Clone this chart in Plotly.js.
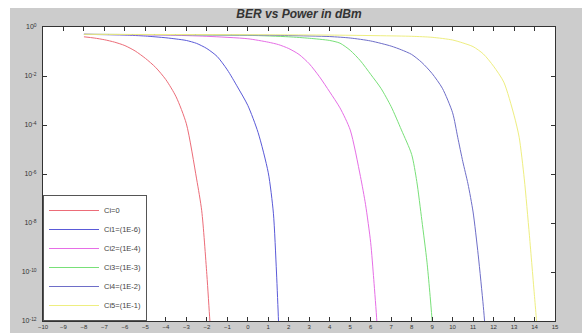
<!DOCTYPE html>
<html>
<head>
<meta charset="utf-8">
<script src="https://cdn.plot.ly/plotly-3.0.1.min.js"></script>
<style>
  html, body { margin: 0; padding: 0; background: #ffffff; width: 583px; height: 333px; overflow: hidden; }
  #chart { position: absolute; left: 10px; top: 8px; width: 572px; height: 325px; }
</style>
</head>
<body>
<div id="chart"></div>
<script>
// Power in dBm and BER
const seriesNames = ["Ci=0", "Ci1=(1E-6)", "Ci2=(1E-4)", "Ci3=(1E-3)", "Ci4=(1E-2)", "Ci5=(1E-1)"];

const powerCi0 = [-8, -7.5, -7, -6.5, -6, -5.5, -5, -4.5, -4, -3.5, -3, -2.5, -2.25, -2, -1.85, -1.75];
const berCi0   = [0.398, 0.355, 0.302, 0.240, 0.174, 0.105, 0.0525, 0.0224, 7.08e-3, 1.41e-3, 1.12e-4, 6.31e-7, 3.16e-8, 7.94e-11, 1e-12, 1e-13];

const powerCi1 = [-8, -6, -5, -4, -3.5, -3, -2.5, -2, -1.5, -1, -0.5, 0, 0.5, 1, 1.25, 1.4, 1.5, 1.55];
const berCi1   = [0.501, 0.468, 0.427, 0.363, 0.324, 0.282, 0.214, 0.132, 0.0631, 0.0178, 3.55e-3, 6.31e-4, 5.01e-5, 1.12e-6, 2.51e-8, 1e-10, 1e-12, 1e-13];

const powerCi2 = [-8, -4, -2, 0, 1, 1.5, 2, 2.5, 3, 3.5, 4, 4.5, 5, 5.5, 5.75, 6, 6.15, 6.3, 6.35];
const berCi2   = [0.501, 0.468, 0.417, 0.331, 0.240, 0.191, 0.132, 0.0759, 0.0316, 9.33e-3, 2.24e-3, 5.01e-4, 6.31e-5, 7.94e-7, 5.62e-8, 1.58e-9, 5.01e-11, 1e-12, 1e-13];

const powerCi3 = [-8, 0, 2, 3, 4, 4.5, 5, 5.5, 6, 6.5, 7, 7.5, 8, 8.25, 8.5, 8.75, 9, 9.05];
const berCi3   = [0.501, 0.457, 0.398, 0.347, 0.282, 0.219, 0.112, 0.0417, 0.0117, 3.16e-3, 5.62e-4, 6.31e-5, 6.31e-6, 5.01e-7, 1.26e-8, 2.51e-10, 1e-12, 1e-13];

const powerCi4 = [-8, 0, 2, 4, 5, 6, 7, 7.5, 8, 8.5, 9, 9.5, 10, 10.25, 10.5, 10.75, 11, 11.25, 11.5, 11.6];
const berCi4   = [0.501, 0.468, 0.447, 0.407, 0.355, 0.269, 0.166, 0.117, 0.0759, 0.0355, 0.0126, 3.16e-3, 3.16e-4, 3.16e-5, 3.16e-6, 3.98e-7, 2.82e-8, 5.01e-10, 3.98e-12, 3.98e-13];

const powerCi5 = [-8, 4, 8, 9, 10, 10.5, 11, 11.5, 12, 12.5, 13, 13.25, 13.5, 13.75, 14, 14.1, 14.2];
const berCi5   = [0.501, 0.468, 0.417, 0.380, 0.295, 0.224, 0.158, 0.0794, 0.0251, 5.62e-3, 2.51e-4, 3.16e-5, 6.31e-7, 3.16e-9, 1e-11, 1e-12, 1e-13];

const xTickVals = [-10,-9,-8,-7,-6,-5,-4,-3,-2,-1,0,1,2,3,4,5,6,7,8,9,10,11,12,13,14,15];
const yTickVals = [1, 1e-2, 1e-4, 1e-6, 1e-8, 1e-10, 1e-12];
const yTickText = ["10<sup>0</sup>", "10<sup>-2</sup>", "10<sup>-4</sup>", "10<sup>-6</sup>", "10<sup>-8</sup>", "10<sup>-10</sup>", "10<sup>-12</sup>"];

const lineColors = ["#ec6c78", "#5a5ad8", "#e66ee6", "#78e078", "#6e6ec8", "#eeee80"];

const xs = [powerCi0, powerCi1, powerCi2, powerCi3, powerCi4, powerCi5];
const ys = [berCi0, berCi1, berCi2, berCi3, berCi4, berCi5];

const traces = seriesNames.map((n, i) => ({
  type: 'scatter', mode: 'lines', name: n,
  x: xs[i], y: ys[i],
  line: { color: lineColors[i], width: 1, shape: 'spline', smoothing: 0.7 }
}));

const axisFont = { family: 'Liberation Sans, Arial, sans-serif', size: 7, color: '#333' };

const layout = {
  width: 572, height: 325,
  paper_bgcolor: '#cccccc',
  plot_bgcolor: '#ffffff',
  margin: { l: 33, r: 27, t: 19, b: 12, pad: 0 },
  title: {
    text: '<b><i>BER vs Power in dBm</i></b>',
    font: { family: 'Liberation Sans, Arial, sans-serif', size: 12, color: '#333' },
    x: 0.5, xref: 'paper', xanchor: 'center',
    y: 0.982, yref: 'container', yanchor: 'middle'
  },
  showlegend: true,
  legend: {
    x: 0, y: 0, xanchor: 'left', yanchor: 'bottom',
    bgcolor: '#ffffff', bordercolor: '#555', borderwidth: 1,
    font: { family: 'Liberation Sans, Arial, sans-serif', size: 7.5, color: '#444' },
    itemwidth: 50
  },
  xaxis: {
    range: [-10, 15], tickvals: xTickVals, ticks: 'inside', ticklen: 4,
    tickcolor: '#333', showline: true, linecolor: '#333', linewidth: 1,
    mirror: 'ticks', showgrid: false, zeroline: false,
    tickfont: { family: 'Liberation Sans, Arial, sans-serif', size: 6, color: '#333' }
  },
  yaxis: {
    type: 'log', range: [-12, 0], tickvals: yTickVals, ticktext: yTickText,
    ticks: 'inside', ticklen: 4, tickcolor: '#333', showline: true, linecolor: '#333',
    linewidth: 1, mirror: 'ticks', showgrid: false, zeroline: false, tickfont: axisFont,
    ticklabelstandoff: 4
  }
};

Plotly.newPlot('chart', traces, layout, { displayModeBar: false, staticPlot: true });
</script>
</body>
</html>
